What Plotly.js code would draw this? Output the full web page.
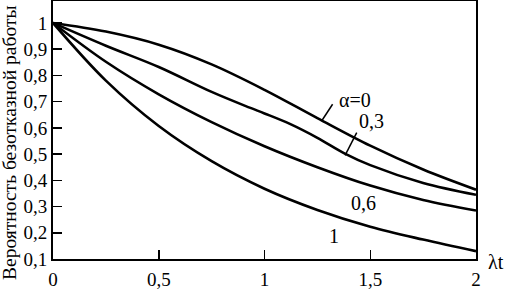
<!DOCTYPE html>
<html>
<head>
<meta charset="utf-8">
<script src="https://cdn.plot.ly/plotly-3.0.1.min.js"></script>
<style>
html,body{margin:0;padding:0;background:#fff}
#chart{width:505px;height:291px}
</style>
</head>
<body>
<div id="chart"></div>
<script>
// Data
const seriesNames = ['α=0', '0,3', '0,6', '1'];
const x_a0 = [0, 0.25, 0.5, 0.75, 1.0, 1.25, 1.5, 1.75, 2.0];
const y_a0 = [1, 0.967, 0.917, 0.842, 0.745, 0.637, 0.532, 0.441, 0.364];
const x_a03 = [0, 0.25, 0.5, 0.75, 0.93, 1.0, 1.12, 1.25, 1.38, 1.5, 1.75, 2.0];
const y_a03 = [1, 0.913, 0.832, 0.737, 0.677, 0.655, 0.615, 0.562, 0.502, 0.458, 0.39, 0.345];
const x_a06 = [0, 0.25, 0.5, 0.75, 1.0, 1.25, 1.5, 1.75, 2.0];
const y_a06 = [1, 0.852, 0.728, 0.622, 0.53, 0.45, 0.38, 0.325, 0.285];
const x_a1 = [0, 0.25, 0.5, 0.75, 1.0, 1.25, 1.5, 1.75, 2.0];
const y_a1 = [1, 0.78, 0.607, 0.473, 0.368, 0.287, 0.223, 0.174, 0.13];

const xTickVals = [0, 0.5, 1, 1.5, 2];
const xTickText = ['0', '0,5', '1', '1,5', '2'];
const yTickVals = [0.1, 0.2, 0.3, 0.4, 0.5, 0.6, 0.7, 0.8, 0.9, 1];
const yTickText = ['0,1', '0,2', '0,3', '0,4', '0,5', '0,6', '0,7', '0,8', '0,9', '1'];

const yTitle = 'Вероятность безотказной работы';
const xTitle = 'λt';

// curve label positions (data units)
const labelX = [1.428, 1.508, 1.47, 1.329];
const labelY = [0.706, 0.626, 0.3135, 0.188];
// leader lines for the first two labels
const leaderX0 = [1.270, 1.381];
const leaderY0 = [0.626, 0.4954];
const leaderX1 = [1.322, 1.436];
const leaderY1 = [0.690, 0.5816];

const FONT = 'Liberation Serif, Times New Roman, serif';
const xs = [x_a0, x_a03, x_a06, x_a1];
const ys = [y_a0, y_a03, y_a06, y_a1];

const traces = xs.map((x, i) => ({
  x: x, y: ys[i], name: seriesNames[i], type: 'scatter', mode: 'lines',
  line: {color: '#000', width: 2.6, shape: 'spline', smoothing: 1},
  hoverinfo: 'skip'
}));

const annotations = seriesNames.map((n, i) => ({
  x: labelX[i], y: labelY[i], xref: 'x', yref: 'y', text: n, showarrow: false,
  font: {family: FONT, size: 20, color: '#000'}, xanchor: 'center', yanchor: 'middle'
}));
annotations.push({
  x: 0, y: 0.5, xref: 'paper', yref: 'paper', text: yTitle, showarrow: false,
  textangle: -90, xshift: -44, yshift: -13, xanchor: 'center', yanchor: 'middle',
  font: {family: FONT, size: 19.5, color: '#000'}
});
annotations.push({
  x: 1, y: 0, xref: 'paper', yref: 'paper', text: xTitle, showarrow: false,
  xshift: 20, yshift: -3, xanchor: 'center', yanchor: 'middle',
  font: {family: FONT, size: 20, color: '#000'}
});

const shapes = leaderX0.map((x0, i) => ({
  type: 'line', xref: 'x', yref: 'y', x0: x0, y0: leaderY0[i], x1: leaderX1[i], y1: leaderY1[i],
  line: {color: '#000', width: 1.5}
}));

const layout = {
  width: 505, height: 291,
  margin: {l: 53, r: 29, t: 1, b: 32, pad: 0},
  paper_bgcolor: '#fff', plot_bgcolor: '#fff',
  showlegend: false,
  font: {family: FONT, size: 19, color: '#000'},
  xaxis: {
    range: [0, 2], tickvals: xTickVals, ticktext: xTickText,
    ticks: 'inside', ticklen: 9, tickwidth: 1.5, tickcolor: '#000',
    showline: true, linecolor: '#000', linewidth: 2, mirror: true,
    showgrid: false, zeroline: false, ticklabelstandoff: 2,
    tickfont: {family: FONT, size: 19, color: '#000'}
  },
  yaxis: {
    range: [0.1, 1.0836], tickvals: yTickVals, ticktext: yTickText,
    ticks: 'inside', ticklen: 9, tickwidth: 1.5, tickcolor: '#000',
    showline: true, linecolor: '#000', linewidth: 2, mirror: true,
    showgrid: false, zeroline: false,
    tickfont: {family: FONT, size: 19, color: '#000'}
  },
  annotations: annotations,
  shapes: shapes
};

Plotly.newPlot('chart', traces, layout, {staticPlot: true, displayModeBar: false});
</script>
</body>
</html>
